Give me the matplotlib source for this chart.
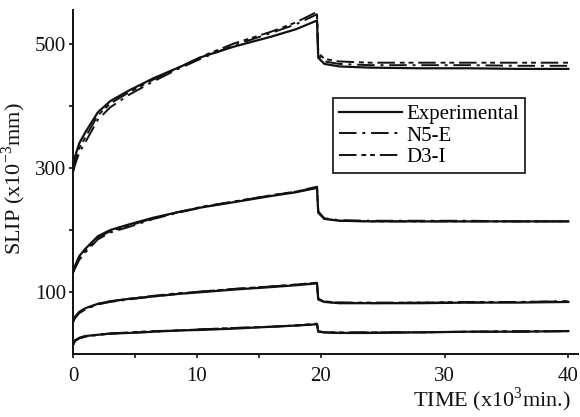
import matplotlib
matplotlib.use("Agg")
import matplotlib.pyplot as plt
from matplotlib.ticker import FixedLocator

plt.rcParams['font.family'] = ['Liberation Serif', 'DejaVu Serif']
plt.rcParams['mathtext.fontset'] = 'custom'
plt.rcParams['mathtext.rm'] = 'Liberation Serif'

# time in 10^3 min, load removed at about 19.75
time = [0, 0.15, 0.5, 1, 2, 3, 4.5, 6.5, 8.5, 10.5, 13, 16, 18, 19.7,
        19.8, 20.3, 21.5, 24, 28, 32, 36, 40]

# slip in 10^-3 mm, four load levels
exp_1 = [295, 318, 340, 358, 390, 408, 425, 445, 462, 480, 496, 512, 524, 538,
         478, 468, 464, 462, 461, 461, 460, 460]
n5e_1 = [295, 305, 325, 342, 378, 398, 418, 440, 460, 478, 498, 518, 532, 548,
         482, 472, 468, 466, 466, 466, 465, 465]
d3i_1 = [295, 310, 332, 350, 385, 404, 422, 443, 462, 481, 501, 520, 535, 552,
         486, 476, 472, 470, 470, 470, 470, 470]

exp_2 = [132, 142, 158, 170, 190, 200, 209, 220, 229, 237, 245, 255, 261, 268,
         228, 218, 215, 214, 214, 214, 214, 214]
n5e_2 = [132, 138, 152, 164, 185, 196, 205, 218, 228, 237, 246, 256, 262, 270,
         230, 219, 216, 215, 215, 215, 214, 214]
d3i_2 = [132, 140, 155, 167, 188, 198, 207, 219, 229, 238, 246, 256, 262, 269,
         229, 218, 215, 214, 214, 214, 214, 214]

exp_3 = [52, 60, 68, 74, 81, 85, 89, 93, 97, 100, 104, 108, 111, 114,
         88, 84, 82, 82, 82, 83, 83, 84]
n5e_3 = [52, 58, 66, 72, 80, 84, 88, 93, 97, 101, 105, 109, 112, 115,
         89, 84, 83, 82, 83, 83, 84, 85]
d3i_3 = [52, 59, 67, 73, 81, 85, 89, 94, 98, 101, 105, 109, 112, 115,
         89, 85, 83, 83, 83, 84, 84, 85]

exp_4 = [15, 22, 26, 29, 31, 33, 34, 36, 38, 39, 41, 44, 46, 48,
         36, 35, 34, 34, 35, 36, 36, 37]
n5e_4 = [15, 21, 25, 28, 31, 33, 34, 36, 38, 40, 42, 44, 46, 48,
         36, 35, 34, 35, 35, 36, 36, 37]
d3i_4 = [15, 21, 26, 29, 31, 33, 35, 37, 38, 40, 42, 44, 46, 49,
         37, 35, 35, 35, 35, 36, 37, 37]

experimental = [exp_1, exp_2, exp_3, exp_4]
n5e = [n5e_1, n5e_2, n5e_3, n5e_4]
d3i = [d3i_1, d3i_2, d3i_3, d3i_4]

ink = '#111111'
style_exp = '-'
style_n5e = (0, (9, 3, 1.5, 3))
style_d3i = (0, (9, 2.5, 2.5, 2, 2.5, 2.5))

fig = plt.figure(figsize=(5.8, 4.17), dpi=100)
ax = fig.add_axes([0.126, 0.151, 0.871, 0.825])

for i in range(4):
    ax.plot(time, experimental[i], color=ink, lw=1.6, ls=style_exp,
            label='Experimental' if i == 0 else None)
    ax.plot(time, n5e[i], color=ink, lw=1.4, ls=style_n5e,
            label='N5-E' if i == 0 else None)
    ax.plot(time, d3i[i], color=ink, lw=1.4, ls=style_d3i,
            label='D3-I' if i == 0 else None)

ax.set_xlim(0, 40.8)
ax.set_ylim(0, 555)
for s in ('top', 'right'):
    ax.spines[s].set_visible(False)
for s in ('left', 'bottom'):
    ax.spines[s].set_linewidth(1.4)
    ax.spines[s].set_color(ink)

ax.xaxis.set_major_locator(FixedLocator([0, 10, 20, 30, 40]))
ax.xaxis.set_minor_locator(FixedLocator([5, 15]))
ax.yaxis.set_major_locator(FixedLocator([100, 300, 500]))
ax.yaxis.set_minor_locator(FixedLocator([200, 400]))
ax.tick_params(which='both', direction='out', length=3, width=1.2, colors=ink,
               labelsize=15)
ax.tick_params(axis='x', pad=6)
ax.tick_params(axis='y', pad=2)

ax.set_xlabel('TIME (x10$^3$min.)', fontsize=16, color=ink)
ax.xaxis.set_label_coords(0.83, -0.092)
ax.set_ylabel('SLIP (x10$^{-3}$mm)', fontsize=16, color=ink)
ax.yaxis.set_label_coords(-0.089, 0.51)

leg = ax.legend(loc='upper left', bbox_to_anchor=(0.515, 0.744), fontsize=15,
                frameon=True, fancybox=False, framealpha=1, edgecolor=ink,
                handlelength=3.0, handletextpad=0.2, labelspacing=0.1,
                borderpad=0.3, borderaxespad=0)
leg.get_frame().set_linewidth(1.2)

fig.savefig('out.png', dpi=100)
